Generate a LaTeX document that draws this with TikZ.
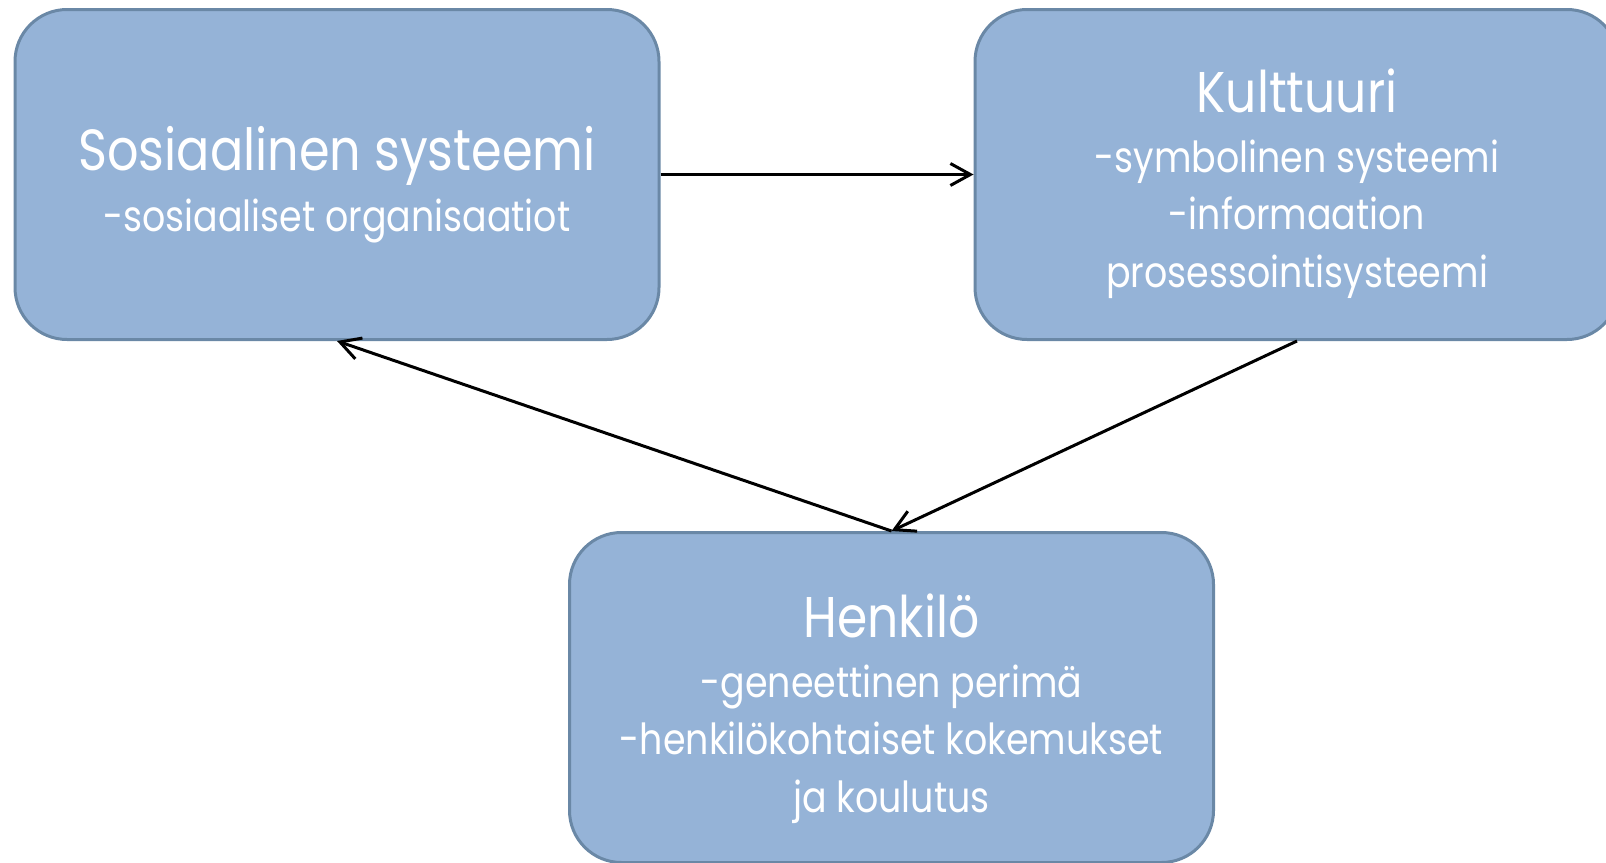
\documentclass[tikz,border=0pt]{standalone}
\usepackage{fontspec}
\setmainfont[FakeStretch=0.85]{Poppins}
\usetikzlibrary{arrows.meta}
\definecolor{boxfill}{HTML}{95B3D7}
\definecolor{boxline}{HTML}{6A88A6}
\begin{document}
\begin{tikzpicture}[x=0.5pt,y=-0.5pt,
  box/.style={draw=boxline, line width=1.5pt, fill=boxfill, rounded corners=26pt,
    minimum width=322pt, minimum height=165pt, inner sep=0pt},
  txt/.style={text=white, anchor=base, inner sep=0pt},
  big/.style={font=\fontsize{29}{35}\selectfont},
  mid/.style={font=\fontsize{28.7}{34}\selectfont},
  small/.style={font=\fontsize{21.4}{26}\selectfont},
  conn/.style={draw=black, line width=1.5pt,
    -{Straight Barb[length=10pt,width=11pt,line width=1.5pt]}}]
\useasboundingbox (0,0) rectangle (1606,862);
\node[box] (L) at (337,174.5) {};
\node[box] (R) at (1297,174.5) {};
\node[box] (B) at (891.5,697.5) {};
\node[txt,big] (Lt) at (337,170) {Sosiaalinen systeemi};
\node[txt,small] (Ls) at (337,231) {-sosiaaliset organisaatiot};
\node[txt,mid] (Rt) at (1297,112) {Kulttuuri};
\node[txt,small] (Rs1) at (1297,172) {-symbolinen systeemi};
\node[txt,small] (Rs2) at (1297,229.5) {-informaation};
\node[txt,small] (Rs3) at (1297,287) {prosessointisysteemi};
\node[txt,mid] (Bt) at (891.5,637) {Henkilö};
\node[txt,small] (Bs1) at (891.5,697) {-geneettinen perimä};
\node[txt,small] (Bs2) at (891.5,754.5) {-henkilökohtaiset kokemukset};
\node[txt,small] (Bs3) at (891.5,812) {ja koulutus};
\draw[conn] (L.east) -- (R.west);
\draw[conn] (R.south) -- (B.north);
\draw[conn] (B.north) -- (L.south);
\end{tikzpicture}
\end{document}
